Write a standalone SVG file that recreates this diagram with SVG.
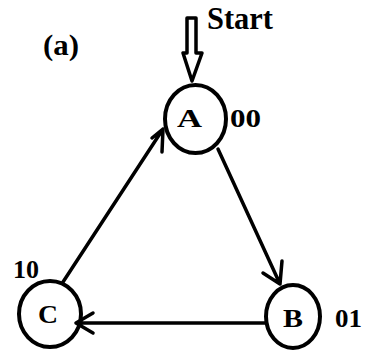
<svg xmlns="http://www.w3.org/2000/svg" width="365" height="354" viewBox="0 0 365 354">
<style>
.st{fill:none;stroke:#000;stroke-width:4}
.ln{fill:none;stroke:#000;stroke-width:3.5;stroke-linecap:round;stroke-linejoin:round}
text{font-family:'Liberation Serif','Times New Roman',serif;font-weight:bold;fill:#000}
</style>
<rect width="365" height="354" fill="#fff"/>
<g id="labels">
<text x="207" y="29" font-family="Liberation Serif, serif" font-size="31" textLength="66" lengthAdjust="spacingAndGlyphs">Start</text>
<text x="43" y="55" font-family="Liberation Serif, serif" font-size="29" textLength="36" lengthAdjust="spacingAndGlyphs">(a)</text>
</g>
<g id="start-arrow">
<path class="ln" stroke-width="3" d="M187,18 L196,18 L196,53 L202,53 L192,81 L183,53 L187,53 Z"/>
</g>
<g id="connectors">
<path class="ln" d="M218,149 L280,284 M282,261 L280,284 L263,273"/>
<path class="ln" d="M63,282 L163,129 M152,138 L163,129 L162,152"/>
<path class="ln" d="M265,323 L76,323 M93,313 L76,323 L93,333"/>
</g>
<g id="node-A">
<ellipse class="st" cx="195.5" cy="119" rx="30.5" ry="34"/>
<text x="177" y="127" font-family="Liberation Serif, serif" font-size="25" textLength="25" lengthAdjust="spacingAndGlyphs">A</text>
<text x="230" y="127" font-family="Liberation Serif, serif" font-size="25" textLength="31" lengthAdjust="spacingAndGlyphs">00</text>
</g>
<g id="node-B">
<ellipse class="st" cx="293" cy="316.5" rx="27" ry="31.5"/>
<text x="283" y="327" font-family="Liberation Serif, serif" font-size="25" textLength="20" lengthAdjust="spacingAndGlyphs">B</text>
<text x="335" y="327" font-family="Liberation Serif, serif" font-size="25" textLength="27" lengthAdjust="spacingAndGlyphs">01</text>
</g>
<g id="node-C">
<ellipse class="st" cx="50" cy="314" rx="31" ry="33"/>
<text x="38" y="323" font-family="Liberation Serif, serif" font-size="25" textLength="20" lengthAdjust="spacingAndGlyphs">C</text>
<text x="13" y="278" font-family="Liberation Serif, serif" font-size="26" textLength="26" lengthAdjust="spacingAndGlyphs">10</text>
</g>
</svg>
